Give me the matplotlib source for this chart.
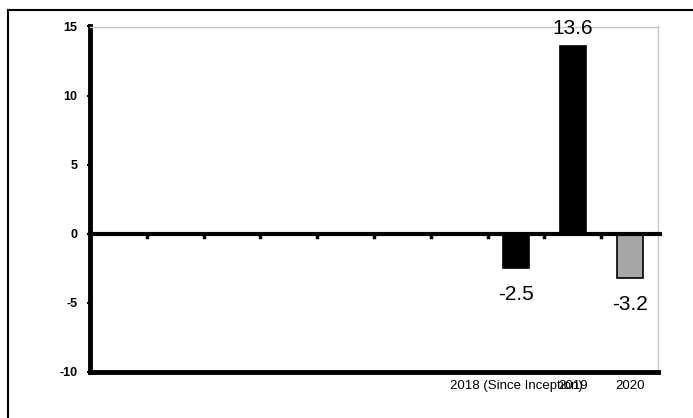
import matplotlib.pyplot as plt
from matplotlib.lines import Line2D

plt.rcParams['font.family'] = ['Liberation Sans', 'DejaVu Sans']

# --- data ---
CATEGORIES = ['', '', '', '', '', '', '', '2018 (Since Inception)', '2019', '2020']
VALUES = [None, None, None, None, None, None, None, -2.5, 13.6, -3.2]
COLORS = ['black'] * 9 + ['#a6a6a6']
Y_TICKS = [-10, -5, 0, 5, 10, 15]

fig = plt.figure(figsize=(6.93, 4.18), dpi=100)
ax = fig.add_axes([90 / 693, 46 / 418, 568 / 693, 345.5 / 418])

xs = list(range(len(CATEGORIES)))
for x, v, c in zip(xs, VALUES, COLORS):
    if v is None:
        continue
    ax.bar(x, v, width=0.46, color=c, edgecolor='black', linewidth=1.2, zorder=3)
    if v >= 0:
        ax.text(x, v + 0.55, f"{v:.1f}", ha='center', va='bottom', fontsize=15)
    else:
        ax.text(x, v - 1.2, f"{v:.1f}", ha='center', va='top', fontsize=15)

ax.set_xlim(-0.5, len(CATEGORIES) - 0.5)
ax.set_ylim(-10, 15)
ax.set_yticks(Y_TICKS)
ax.set_yticklabels([str(t) for t in Y_TICKS], fontsize=9, fontweight='bold')
ax.tick_params(axis='y', length=2, width=1.5, pad=7)

ax.set_xticks(xs)
ax.set_xticklabels(CATEGORIES, fontsize=9.5)
ax.tick_params(axis='x', length=0, pad=6)

# zero line with small ticks between categories
ax.axhline(0, color='black', linewidth=3, zorder=4, clip_on=False, xmax=1.004)
for b in range(1, len(CATEGORIES)):
    ax.plot([b - 0.5, b - 0.5], [0, -0.25], color='black', linewidth=2.5, zorder=4)

for side in ['top', 'right']:
    ax.spines[side].set_color('#c8c8c8')
    ax.spines[side].set_linewidth(1)
for side in ['left', 'bottom']:
    ax.spines[side].set_color('black')
    ax.spines[side].set_linewidth(3.5)

# outer border
fig.add_artist(Line2D([8 / 693, 8 / 693], [0, 1 - 10 / 418], color='black', linewidth=1.5))
fig.add_artist(Line2D([8 / 693, 1], [1 - 10 / 418, 1 - 10 / 418], color='black', linewidth=1.5))

plt.savefig('out.png', dpi=100)
